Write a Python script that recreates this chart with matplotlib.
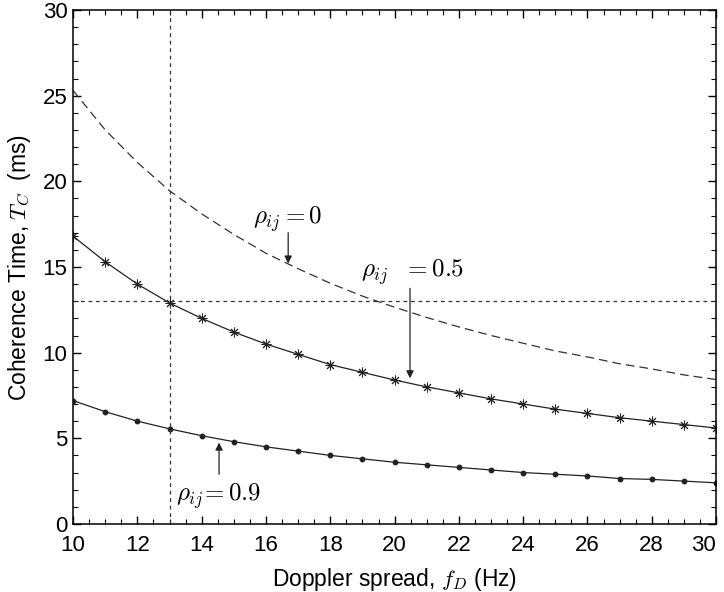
import matplotlib
matplotlib.use("Agg")
import matplotlib.pyplot as plt
from matplotlib.ticker import MultipleLocator

plt.rcParams['font.family'] = ['Liberation Sans', 'DejaVu Sans']
plt.rcParams['mathtext.fontset'] = 'cm'

# Doppler spread (Hz)
fd = [10, 11, 12, 13, 14, 15, 16, 17, 18, 19, 20,
      21, 22, 23, 24, 25, 26, 27, 28, 29, 30]

# coherence time (ms) for each correlation level
tc_rho0 = [25.3, 23.0, 21.1, 19.45, 18.1, 16.9, 15.8, 14.9, 14.05, 13.3, 12.65,
           12.05, 11.5, 11.0, 10.55, 10.1, 9.75, 9.35, 9.05, 8.7, 8.43]
tc_rho05 = [16.8, 15.3, 14.0, 12.9, 12.0, 11.2, 10.5, 9.9, 9.3, 8.85, 8.4,
            8.0, 7.65, 7.3, 7.0, 6.7, 6.45, 6.2, 6.0, 5.8, 5.6]
tc_rho09 = [7.2, 6.55, 6.0, 5.55, 5.15, 4.8, 4.5, 4.25, 4.0, 3.8, 3.6,
            3.45, 3.3, 3.15, 3.0, 2.9, 2.8, 2.65, 2.6, 2.5, 2.4]

xticks = [10, 12, 14, 16, 18, 20, 22, 24, 26, 28, 30]

ref_fd = 13
ref_tc = 13

fig = plt.figure(figsize=(7.24, 5.92), dpi=100)
ax = fig.add_axes([0.101, 0.115, 0.888, 0.868])

ax.plot(fd, tc_rho0, color='#333333', lw=0.9, ls=(0, (7, 4)))
ax.plot(fd, tc_rho05, color='#222222', lw=0.9, marker=(8, 2, 0), ms=7, mew=0.7)
ax.plot(fd, tc_rho09, color='#222222', lw=0.9, marker='o', ms=3.2)

ax.axvline(ref_fd, color='#333333', lw=0.9, ls=(0, (3, 3)))
ax.axhline(ref_tc, color='#333333', lw=0.9, ls=(0, (3, 3)))

arw = dict(arrowstyle='-|>', color='#222222', lw=0.9, mutation_scale=11, shrinkA=0, shrinkB=0)
ax.annotate('', xy=(16.69, 15.2), xytext=(16.69, 17.0), arrowprops=arw)
ax.text(15.6, 17.8, r'$\rho_{ij} = 0$', fontsize=18, va='center', ha='left')

ax.annotate('', xy=(20.48, 8.5), xytext=(20.48, 13.75), arrowprops=arw)
ax.text(18.95, 14.7, r'$\rho_{ij}\ \ = 0.5$', fontsize=18, va='center', ha='left')

ax.annotate('', xy=(14.54, 4.75), xytext=(14.54, 2.9), arrowprops=arw)
ax.text(13.2, 1.65, r'$\rho_{ij}\!= 0.9$', fontsize=18, va='center', ha='left')

ax.set_xlim(10, 30)
ax.set_ylim(0, 30)
ax.set_xticks(xticks, [str(t) for t in xticks])
ax.xaxis.set_minor_locator(MultipleLocator(0.5))
ax.yaxis.set_major_locator(MultipleLocator(5))
ax.yaxis.set_minor_locator(MultipleLocator(1))
ax.tick_params(which='both', direction='in', top=True, right=True, labelsize=16)
ax.tick_params(axis='x', which='major', pad=8)
ax.tick_params(axis='y', which='major', pad=4)
ax.tick_params(which='major', length=6, width=1)
ax.tick_params(which='minor', length=3.5, width=0.8)
for s in ax.spines.values():
    s.set_linewidth(1.1)
# keep the last x label inside the figure
ax.get_xticklabels()[-1].set_horizontalalignment('right')

ax.set_xlabel(r'Doppler spread, $f_D$ (Hz)', fontsize=16.5, labelpad=7)
ax.set_ylabel(r'Coherence Time, $T_C$  (ms)', fontsize=16.5, labelpad=7)

fig.savefig('out.png', dpi=100)
